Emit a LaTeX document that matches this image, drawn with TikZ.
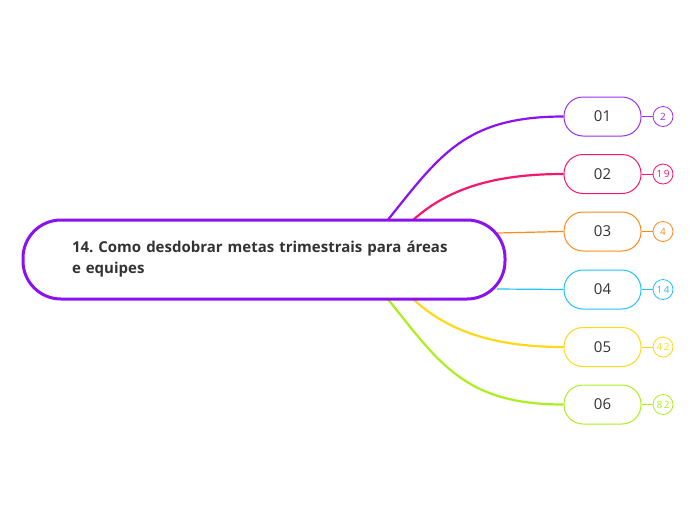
\documentclass[tikz,border=0pt]{standalone}
\usepackage{fontspec}
\setmainfont{Open Sans}
\usepackage{tikz}
\usetikzlibrary{calc}
\frenchspacing

\definecolor{mainpurple}{HTML}{8A12F0}
\definecolor{brpurple}{HTML}{9B30F2}
\definecolor{brpink}{HTML}{F5166E}
\definecolor{brorange}{HTML}{FF8A1C}
\definecolor{brcyan}{HTML}{22C3F5}
\definecolor{bryellow}{HTML}{FFD81A}
\definecolor{brlime}{HTML}{AAF020}
\definecolor{textgray}{HTML}{333333}

\tikzset{
  rootbox/.style={draw=mainpurple, line width=3pt, fill=white, rounded corners=38pt,
    minimum width=482pt, minimum height=79pt, text width=384pt, inner xsep=49pt,
    align=left, text=textgray, font=\fontsize{15}{21}\selectfont\bfseries},
  topicbox/.style={draw=#1, line width=1pt, fill=white, rounded corners=19pt,
    minimum width=77pt, minimum height=39pt, text=textgray,
    font=\fontsize{15}{18}\selectfont},
  countbox/.style={draw=#1, circle, line width=0.8pt, fill=white, minimum size=20pt,
    inner sep=0pt, text=#1,
    font=\fontsize{10}{11}\selectfont\addfontfeature{LetterSpace=15}},
  branch/.style={draw=#1, line width=2.2pt},
  twig/.style={draw=#1, line width=1pt}
}

\begin{document}
\begin{tikzpicture}[x=1pt, y=-1pt]
    % Page frame
    \useasboundingbox (0,0) rectangle (697,520);

    % Branches from the central topic
    \coordinate (s1) at (387,221);
    \coordinate (s2) at (412,221);
    \coordinate (s3) at (497,233);
    \coordinate (s4) at (497,289);
    \coordinate (s5) at (412,298);
    \coordinate (s6) at (387,298);

    % Sub topics
    \node[topicbox=brpurple] (c1) at (602.5,116.5) {01};
    \node[topicbox=brpink]   (c2) at (602.5,174)   {02};
    \node[topicbox=brorange] (c3) at (602.5,231.5) {03};
    \node[topicbox=brcyan]   (c4) at (602.5,289.5) {04};
    \node[topicbox=bryellow] (c5) at (602.5,347)   {05};
    \node[topicbox=brlime]   (c6) at (602.5,404.5) {06};

    \draw[branch=mainpurple] (s1) .. controls (440,155) and (465,116.5) .. (c1.west);
    \draw[branch=brpink] (s2) .. controls (450,186) and (500,174) .. (c2.west);
    \draw[branch=brorange, line width=1.2pt] (s3) .. controls (530,231.5) .. (c3.west);
    \draw[branch=brcyan, line width=1.2pt] (s4) .. controls (530,289.5) .. (c4.west);
    \draw[branch=bryellow] (s5) .. controls (450,334) and (500,347) .. (c5.west);
    \draw[branch=brlime] (s6) .. controls (440,364) and (465,404.5) .. (c6.west);

    % Central topic
    \node[rootbox] (root) at (264,259.5)
      {14. Como desdobrar metas trimestrais para áreas\\e equipes};

    % Counters
    \node[countbox=brpurple] (n1) at (663,116.5) {2};
    \node[countbox=brpink]   (n2) at (663,174)   {19};
    \node[countbox=brorange] (n3) at (663,231.5) {4};
    \node[countbox=brcyan]   (n4) at (663,289.5) {14};
    \node[countbox=bryellow] (n5) at (663,347)   {42};
    \node[countbox=brlime]   (n6) at (663,404.5) {82};

    \draw[twig=brpurple] (c1.east) -- (n1.west);
    \draw[twig=brpink]   (c2.east) -- (n2.west);
    \draw[twig=brorange] (c3.east) -- (n3.west);
    \draw[twig=brcyan]   (c4.east) -- (n4.west);
    \draw[twig=bryellow] (c5.east) -- (n5.west);
    \draw[twig=brlime]   (c6.east) -- (n6.west);
\end{tikzpicture}
\end{document}
